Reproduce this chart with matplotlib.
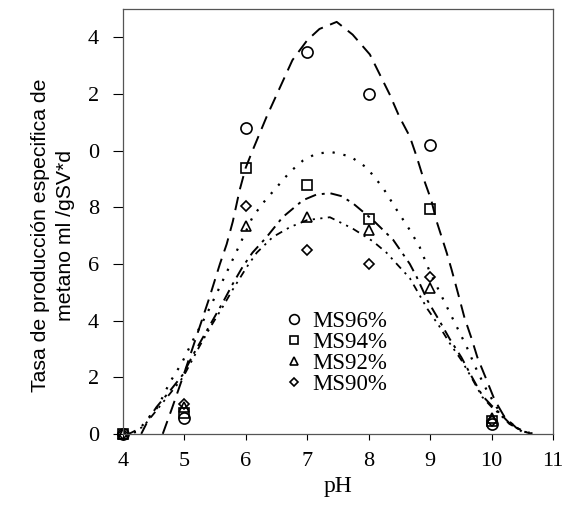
import matplotlib
matplotlib.use("Agg")
import matplotlib.pyplot as plt
from matplotlib.lines import Line2D

# measured points
ph = [4, 5, 6, 7, 8, 9, 10]
ms96 = [0, 0.55, 10.8, 13.5, 12.0, 10.2, 0.35]
ms94 = [0, 0.75, 9.4, 8.8, 7.6, 7.95, 0.45]
ms92 = [0, 0.95, 7.35, 7.65, 7.2, 5.15, 0.55]
ms90 = [0, 1.05, 8.05, 6.5, 6.0, 5.55, 0.45]

# fitted curves
fit96_x = [4.65, 4.8, 5.0, 5.2, 5.4, 5.58, 5.69, 5.79, 5.9, 6.0, 6.11, 6.34, 6.55,
           6.76, 7.0, 7.2, 7.48, 7.74, 8.02, 8.18, 8.34, 8.5, 8.67, 8.78, 8.88,
           9.02, 9.1, 9.27, 9.35, 9.45, 9.56, 9.67, 9.77, 9.92, 10.05, 10.21,
           10.41, 10.62]
fit96_y = [0.0, 0.9, 2.15, 3.45, 4.75, 6.0, 6.7, 7.5, 8.6, 9.4, 10.0, 11.2, 12.2,
           13.2, 13.9, 14.3, 14.55, 14.1, 13.4, 12.7, 12.0, 11.2, 10.5, 9.8, 9.1,
           8.25, 7.55, 6.4, 5.8, 5.0, 4.1, 3.4, 2.7, 1.9, 1.2, 0.6, 0.2, 0.04]

fit94_x = [4.0, 4.24, 4.39, 4.57, 4.76, 4.96, 5.14, 5.37, 5.58, 5.82, 6.11, 6.28,
           6.5, 6.72, 6.93, 7.15, 7.4, 7.7, 7.97, 8.23, 8.46, 8.67, 8.83, 9.0,
           9.27, 9.43, 9.59, 9.76, 9.92, 10.08, 10.24, 10.5, 10.7]
fit94_y = [0.0, 0.07, 0.5, 0.95, 1.8, 2.5, 3.3, 4.25, 5.2, 6.3, 7.65, 8.15,
           8.7, 9.25, 9.65, 9.9, 9.95, 9.8, 9.4, 8.7, 7.9, 7.2, 6.6, 5.7,
           4.5, 3.8, 3.1, 2.25, 1.55, 0.95, 0.5, 0.07, 0.0]

fit92_x = [4.3, 4.44, 4.55, 4.76, 4.98, 5.12, 5.25, 5.42, 5.63, 5.79, 5.95, 6.11,
           6.34, 6.6, 6.93, 7.15, 7.37, 7.55, 7.74, 8.07, 8.4, 8.67, 8.78, 8.96,
           9.15, 9.32, 9.51, 9.67, 9.85, 10.0, 10.13, 10.29, 10.5, 10.65]
fit92_y = [0.0, 0.6, 0.95, 1.5, 2.1, 2.7, 3.2, 3.85, 4.65, 5.3, 5.9, 6.4,
           6.95, 7.65, 8.25, 8.45, 8.5, 8.4, 8.15, 7.55, 6.85, 6.0, 5.55, 4.7,
           4.0, 3.35, 2.7, 2.05, 1.35, 1.0, 0.74, 0.38, 0.1, 0.0]

fit90_x = [4.1, 4.33, 4.5, 4.76, 4.98, 5.25, 5.42, 5.63, 5.79, 6.02, 6.18, 6.44,
           6.72, 7.0, 7.37, 7.74, 8.07, 8.29, 8.5, 8.67, 8.96, 9.15, 9.32, 9.51,
           9.67, 9.85, 10.0, 10.13, 10.29, 10.5, 10.65]
fit90_y = [0.0, 0.25, 0.7, 1.4, 2.0, 3.1, 3.75, 4.5, 5.1, 5.9, 6.4, 6.95,
           7.3, 7.55, 7.65, 7.25, 6.8, 6.4, 5.9, 5.5, 4.4, 3.8, 3.2, 2.6,
           2.0, 1.3, 0.95, 0.7, 0.35, 0.1, 0.0]

labels = ["MS96%", "MS94%", "MS92%", "MS90%"]
yticks = [0, 2, 4, 6, 8, 10, 12, 14]
ytick_labels = ["0", "2", "4", "6", "8", "0", "2", "4"]

serif = "Liberation Serif"
sans = "Liberation Sans"

fig = plt.figure(figsize=(5.66, 5.08), dpi=100)
ax = fig.add_axes([0.217, 0.146, 0.760, 0.836])

ax.plot(fit96_x, fit96_y, color="black", lw=1.4, ls=(0, (7, 4)))
ax.plot(fit94_x, fit94_y, color="black", lw=1.6, ls=(0, (1, 4)))
ax.plot(fit92_x, fit92_y, color="black", lw=1.4, ls=(0, (6, 3, 1.5, 3)))
ax.plot(fit90_x, fit90_y, color="black", lw=1.3, ls=(0, (4, 3, 1.2, 3, 1.2, 3)))

mk = dict(ls="none", mfc="none", mec="black", mew=1.2, clip_on=False)
ax.plot(ph, ms96, marker="o", ms=8, **mk)
ax.plot(ph, ms94, marker="s", ms=6.5, **mk)
ax.plot(ph, ms92, marker="^", ms=7, **mk)
ax.plot(ph, ms90, marker="D", ms=5.5, **mk)

handles = [
    Line2D([], [], marker="o", ms=7, **mk),
    Line2D([], [], marker="s", ms=5.5, **mk),
    Line2D([], [], marker="^", ms=6, **mk),
    Line2D([], [], marker="D", ms=4.5, **mk),
]
ax.legend(handles, labels, loc="upper left", bbox_to_anchor=(0.36, 0.312),
          frameon=False, handlelength=0.6, handletextpad=0.5, labelspacing=0.0,
          borderaxespad=0, prop={"family": serif, "size": 16.5})

ax.set_xlim(4, 11)
ax.set_ylim(0, 15)
ax.set_xticks(range(4, 12))
ax.set_yticks(yticks)
ax.set_yticklabels(ytick_labels)
for t in ax.get_xticklabels() + ax.get_yticklabels():
    t.set_fontfamily(serif)
    t.set_fontsize(16)
ax.tick_params(axis="x", direction="out", length=4, pad=9, width=0.8)
ax.tick_params(axis="y", direction="out", length=7, pad=10, width=0.8)
for s in ax.spines.values():
    s.set_linewidth(0.9)
    s.set_color("#555555")

ax.set_xlabel("pH", fontfamily=serif, fontsize=17, labelpad=4)

fig.text(0.071, 0.537, "Tasa de producción especifica de", rotation=90,
         ha="center", va="center", fontfamily=sans, fontsize=15.3)
fig.text(0.116, 0.537, "metano ml /gSV*d", rotation=90,
         ha="center", va="center", fontfamily=sans, fontsize=15.3)

fig.savefig("out.png", dpi=100)
